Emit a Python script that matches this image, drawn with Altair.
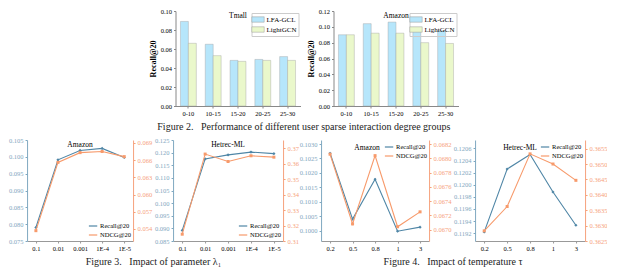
import altair as alt
import pandas as pd

SERIF = "Liberation Serif"
BLUE = "#4f86a6"
BLUE_AX = "#7fa8c0"
ORANGE = "#f79a6b"
ORANGE_AX = "#f6a27c"

# ---- Figure 2 data ----
groups = ["0-10", "10-15", "15-20", "20-25", "25-30"]
models = ["LFA-GCL", "LightGCN"]
tmall_lfa = [0.089, 0.065, 0.048, 0.049, 0.052]
tmall_lgcn = [0.066, 0.053, 0.047, 0.048, 0.048]
amz_lfa = [0.090, 0.104, 0.106, 0.097, 0.095]
amz_lgcn = [0.090, 0.092, 0.092, 0.080, 0.079]

# ---- Figure 3 data ----
metrics = ["Recall@20", "NDCG@20"]
lambdas = ["0.1", "0.01", "0.001", "1E-4", "1E-5"]
amz_lam_recall = [0.0790, 0.0991, 0.1019, 0.1025, 0.0998]
amz_lam_ndcg = [0.0537, 0.0656, 0.0673, 0.0675, 0.0666]
ml_lam_recall = [0.0892, 0.1175, 0.1191, 0.1202, 0.1196]
ml_lam_ndcg = [0.3144, 0.3662, 0.3614, 0.3651, 0.3642]

# ---- Figure 4 data ----
taus = ["0.2", "0.5", "0.8", "1", "3"]
amz_tau_recall = [0.10268, 0.10040, 0.10178, 0.09998, 0.10012]
amz_tau_ndcg = [0.06806, 0.06708, 0.06804, 0.06704, 0.06725]
ml_tau_recall = [0.11922, 0.12026, 0.12050, 0.11988, 0.11933]
ml_tau_ndcg = [0.36283, 0.36362, 0.36533, 0.36500, 0.36447]


def bar_panel(name, lfa, lgcn, ymax, yvals, w, h):
    df = pd.DataFrame({
        "group": groups * 2,
        "model": [models[0]] * len(groups) + [models[1]] * len(groups),
        "value": lfa + lgcn,
    })
    return alt.Chart(df).mark_bar(stroke="#a0a0a0", strokeWidth=0.4).encode(
        x=alt.X("group:N", sort=groups,
                scale=alt.Scale(paddingInner=0.36, paddingOuter=0.2),
                axis=alt.Axis(title=None, labelAngle=0, labelFontSize=6.5, tickSize=2,
                              labelPadding=2, domainColor="#888", tickColor="#888")),
        xOffset=alt.XOffset("model:N", sort=models, scale=alt.Scale(paddingInner=0)),
        y=alt.Y("value:Q", scale=alt.Scale(domain=[0, ymax], nice=False),
                axis=alt.Axis(title="Recall@20", values=yvals, format=".2f",
                              titleFontSize=8, titleFontWeight="bold", titlePadding=3,
                              labelFontSize=6.5, tickSize=2, labelPadding=2,
                              domainColor="#888", tickColor="#888")),
        color=alt.Color("model:N", sort=models,
                        scale=alt.Scale(domain=models, range=["#b6e6fb", "#eaf8cb"]),
                        legend=alt.Legend(title=None, orient="top-right", offset=2,
                                          symbolType="M-1.6,-0.7L1.6,-0.7L1.6,0.7L-1.6,0.7Z",
                                          symbolSize=60, symbolStrokeColor="#9a9a9a",
                                          symbolStrokeWidth=0.5, labelFontSize=7,
                                          rowPadding=1, padding=2,
                                          strokeColor="#cccccc")),
    ).properties(width=w, height=h,
                 title=alt.TitleParams(name, offset=-11, fontSize=7.5, fontWeight="normal",
                                       anchor="middle"))


def line_panel(name, xs, recall, ndcg, ldom, lvals, lfmt, rdom, rvals, rfmt, w, h,
               legend_orient, title_dx):
    df = pd.DataFrame({
        "x": xs * 2,
        "metric": [metrics[0]] * len(xs) + [metrics[1]] * len(xs),
        "value": recall + ndcg,
    })
    base = alt.Chart(df).encode(
        x=alt.X("x:N", sort=xs, scale=alt.Scale(type="point", padding=0.4),
                axis=alt.Axis(title=None, labelAngle=0, labelFontSize=6.5, tickSize=2,
                              labelPadding=2, domainColor="#999", tickColor="#999")),
        color=alt.Color("metric:N", sort=metrics,
                        scale=alt.Scale(domain=metrics, range=[BLUE, ORANGE]),
                        legend=alt.Legend(title=None, orient=legend_orient, offset=1,
                                          symbolType="stroke", symbolSize=70,
                                          symbolStrokeWidth=1.2, labelFontSize=6.5,
                                          labelOffset=2, rowPadding=0, padding=1)),
    )
    left = base.transform_filter(alt.datum.metric == metrics[0]).mark_line(
        strokeWidth=1.1,
        point=alt.OverlayMarkDef(shape="diamond", size=10, filled=True),
    ).encode(
        y=alt.Y("value:Q", scale=alt.Scale(domain=ldom, nice=False, zero=False),
                axis=alt.Axis(title=None, orient="left", values=lvals, format=lfmt,
                              labelFontSize=6.5, tickSize=2, labelPadding=2,
                              labelColor=BLUE_AX, domainColor=BLUE_AX, tickColor=BLUE_AX))
    )
    right = base.transform_filter(alt.datum.metric == metrics[1]).mark_line(
        strokeWidth=1.1,
        point=alt.OverlayMarkDef(shape="square", size=9, filled=True),
    ).encode(
        y=alt.Y("value:Q", scale=alt.Scale(domain=rdom, nice=False, zero=False),
                axis=alt.Axis(title=None, orient="right", values=rvals, format=rfmt,
                              labelFontSize=6.5, tickSize=2, labelPadding=2,
                              labelColor=ORANGE_AX, domainColor=ORANGE_AX,
                              tickColor=ORANGE_AX))
    )
    ch = alt.layer(left, right).resolve_scale(y="independent").properties(
        width=w, height=h,
        title=alt.TitleParams(name, offset=-11, fontSize=7.5, fontWeight="normal",
                              anchor="middle", dx=title_dx))
    return ch


bar1 = bar_panel("Tmall", tmall_lfa, tmall_lgcn, 0.10,
                 [0.0, 0.02, 0.04, 0.06, 0.08, 0.10], 125, 95)
bar2 = bar_panel("Amazon", amz_lfa, amz_lgcn, 0.12,
                 [0.0, 0.02, 0.04, 0.06, 0.08, 0.10, 0.12], 125, 95)

NB = "\u00a0\u00a0\u00a0"
cap = dict(orient="bottom", fontSize=10, fontWeight="normal", font=SERIF, offset=5,
           color="#222", anchor="middle")

top = alt.hconcat(bar1, bar2, spacing=6).resolve_scale(color="independent").properties(
    title=alt.TitleParams("Figure 2." + NB + "Performance of different user sparse interaction degree groups", **cap))

H = 101
p1 = line_panel("Amazon", lambdas, amz_lam_recall, amz_lam_ndcg,
                [0.075, 0.105], [0.075, 0.08, 0.085, 0.09, 0.095, 0.1, 0.105], ".3f",
                [0.0519, 0.0695], [0.054, 0.057, 0.06, 0.063, 0.066, 0.069], ".3f",
                106, H, "bottom-right", 0)
p2 = line_panel("Hetrec-ML", lambdas, ml_lam_recall, ml_lam_ndcg,
                [0.085, 0.125], [0.085, 0.09, 0.095, 0.1, 0.105, 0.11, 0.115, 0.12, 0.125], ".3f",
                [0.31, 0.3753], [0.31, 0.32, 0.33, 0.34, 0.35, 0.36, 0.37], ".2f",
                110, H, "bottom-right", 0)
p3 = line_panel("Amazon", taus, amz_tau_recall, amz_tau_ndcg,
                [0.09964, 0.10314], [0.1, 0.1005, 0.101, 0.1015, 0.102, 0.1025, 0.103], ".4f",
                [0.06684, 0.06826], [0.067, 0.0672, 0.0674, 0.0676, 0.0678, 0.068, 0.0682], ".4f",
                108, H, "top-right", -8)
p4 = line_panel("Hetrec-ML", taus, ml_tau_recall, ml_tau_ndcg,
                [0.11907, 0.12074], [0.1192, 0.1194, 0.1196, 0.1198, 0.12, 0.1202, 0.1204, 0.1206], ".4f",
                [0.3625, 0.36578], [0.3625, 0.363, 0.3635, 0.364, 0.3645, 0.365, 0.3655], ".4f",
                110, H, "top-right", -10)

fig3 = alt.hconcat(p1, p2, spacing=2).resolve_scale(color="independent").properties(
    title=alt.TitleParams("Figure 3." + NB + "Impact of parameter \u03bb\u2081", **cap))
fig4 = alt.hconcat(p3, p4, spacing=2).resolve_scale(color="independent").properties(
    title=alt.TitleParams("Figure 4." + NB + "Impact of temperature \u03c4", **cap))

bottom = alt.hconcat(fig3, fig4, spacing=0).resolve_scale(color="independent")

chart = alt.vconcat(top, bottom, spacing=5, center=True).resolve_scale(
    color="independent").properties(padding=0).configure(
    font=SERIF).configure_view(stroke=None).configure_axis(
    labelFont=SERIF, titleFont=SERIF, grid=False).configure_legend(
    labelFont=SERIF).configure_title(font=SERIF)

chart.save("out.html", embed_options={"renderer": "svg", "actions": False})
